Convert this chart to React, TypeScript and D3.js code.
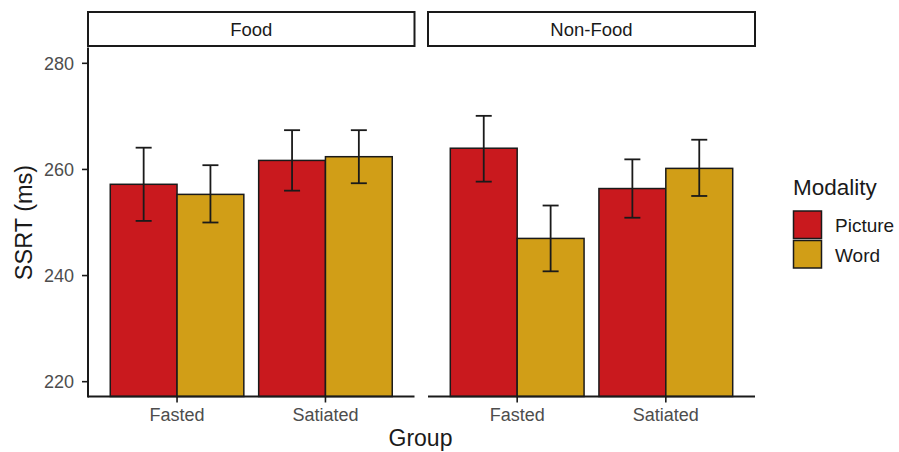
import React from "react";
import * as d3 from "d3";

const panels = ["Food", "Non-Food"];
const groups = ["Fasted", "Satiated"];
const modalities = ["Picture", "Word"];
const colors = ["#C9191E", "#D19E17"];
// values[panel][group][modality]
const means = [
  [[257.2, 255.3], [261.7, 262.4]],
  [[264.0, 247.0], [256.4, 260.2]],
];
const lowers = [
  [[250.3, 250.0], [256.0, 257.4]],
  [[257.7, 240.8], [250.9, 255.0]],
];
const uppers = [
  [[264.1, 260.8], [267.4, 267.4]],
  [[270.1, 253.2], [261.9, 265.6]],
];
const yTicks = [220, 240, 260, 280];

export default function App() {
  const W = 899, H = 452;
  const top = 47.4, bottom = 397.6;
  const y = d3.scaleLinear().domain([217, 283]).range([bottom, top]);
  const panelX = [[88, 414.5], [428, 755]];
  const stripTop = 12, stripBottom = 46;
  const font = "Arial, 'Liberation Sans', sans-serif";
  const axisY = 396.5;

  return (
    <svg width={W} height={H} style={{ position: "absolute", left: 0, top: 0, background: "#fff" }}>
      {panels.map((p, pi) => {
        const [x0, x1] = panelX[pi];
        const xc = d3.scaleLinear().domain([0.4, 2.6]).range([x0, x1]);
        const bw = xc(1.45) - xc(1);
        const cap = 16;
        return (
          <g key={p}>
            <rect x={x0} y={stripTop} width={x1 - x0} height={stripBottom - stripTop} fill="#fff" stroke="#1a1a1a" strokeWidth={2} />
            <text x={(x0 + x1) / 2} y={29.7} dy="0.35em" textAnchor="middle" fontSize={18.5} fill="#1a1a1a" fontFamily={font}>{p}</text>
            {groups.map((g, gi) => {
              const c = xc(gi + 1);
              return (
                <g key={g}>
                  {modalities.map((m, mi) => {
                    const bx = c - bw + mi * bw;
                    const v = means[pi][gi][mi];
                    return (
                      <rect key={m} x={bx} y={y(v)} width={bw} height={axisY - y(v)} fill={colors[mi]} stroke="#1a1a1a" strokeWidth={1.5} />
                    );
                  })}
                  {modalities.map((m, mi) => {
                    const cx = c - bw / 2 + mi * bw;
                    const lo = y(lowers[pi][gi][mi]);
                    const hi = y(uppers[pi][gi][mi]);
                    return (
                      <g key={"e" + m} stroke="#1a1a1a" strokeWidth={1.8}>
                        <line x1={cx} x2={cx} y1={lo} y2={hi} />
                        <line x1={cx - cap / 2} x2={cx + cap / 2} y1={lo} y2={lo} />
                        <line x1={cx - cap / 2} x2={cx + cap / 2} y1={hi} y2={hi} />
                      </g>
                    );
                  })}
                  <line x1={c} x2={c} y1={axisY} y2={axisY + 6} stroke="#1a1a1a" strokeWidth={1.6} />
                  <text x={c} y={414.7} dy="0.35em" textAnchor="middle" fontSize={18} fill="#4d4d4d" fontFamily={font}>{g}</text>
                </g>
              );
            })}
            <line x1={x0} x2={x1} y1={axisY} y2={axisY} stroke="#1a1a1a" strokeWidth={2} />
            {pi === 0 && (
              <g>
                <line x1={x0} x2={x0} y1={top} y2={axisY + 1} stroke="#1a1a1a" strokeWidth={2} />
                {yTicks.map((t) => (
                  <g key={t}>
                    <line x1={x0 - 6} x2={x0} y1={y(t)} y2={y(t)} stroke="#1a1a1a" strokeWidth={1.6} />
                    <text x={x0 - 14} y={y(t)} dy="0.35em" textAnchor="end" fontSize={18} fill="#4d4d4d" fontFamily={font}>{t}</text>
                  </g>
                ))}
              </g>
            )}
          </g>
        );
      })}
      <text transform={`translate(24,222.5) rotate(-90)`} textAnchor="middle" dy="0.35em" fontSize={23.5} fill="#1a1a1a" fontFamily={font}>SSRT (ms)</text>
      <text x={420.5} y={446} textAnchor="middle" fontSize={23} fill="#1a1a1a" fontFamily={font}>Group</text>
      <text x={793} y={187} dy="0.35em" fontSize={22.5} fill="#1a1a1a" fontFamily={font}>Modality</text>
      {modalities.map((m, mi) => (
        <g key={m}>
          <rect x={793.5} y={211 + mi * 29.5} width={28} height={27.5} fill={colors[mi]} stroke="#1a1a1a" strokeWidth={1.5} />
          <text x={835} y={225 + mi * 30} dy="0.35em" fontSize={19} fill="#1a1a1a" fontFamily={font}>{m}</text>
        </g>
      ))}
    </svg>
  );
}
